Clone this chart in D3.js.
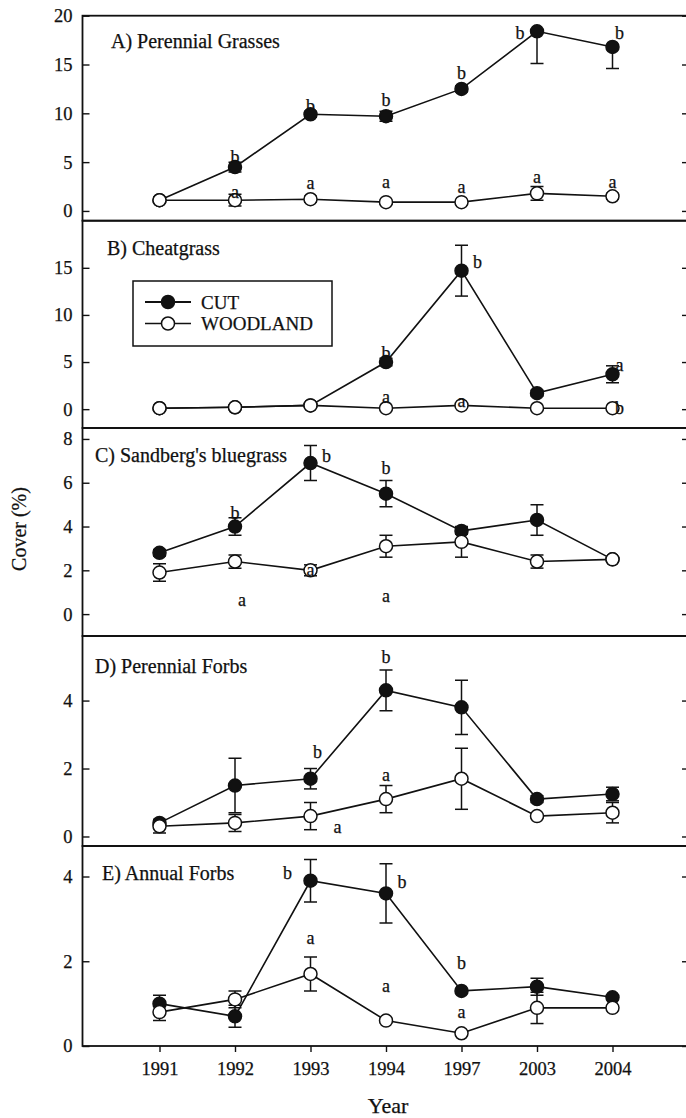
<!DOCTYPE html>
<html><head><meta charset="utf-8">
<script src="https://cdn.jsdelivr.net/npm/d3@7"></script>
<style>body{margin:0;background:#fff}svg{display:block}text{font-family:"Liberation Serif","Times New Roman",serif;fill:#111;stroke:#111;stroke-width:0.25px}</style>
</head><body><svg id="c" width="686" height="1118"></svg>
<script>
// ---------- data ----------
const years = ["1991","1992","1993","1994","1997","2003","2004"];
const panelNames = ["A) Perennial Grasses","B) Cheatgrass","C) Sandberg's bluegrass","D) Perennial Forbs","E) Annual Forbs"];
const yTicks = [[0,5,10,15,20],[0,5,10,15],[0,2,4,6,8],[0,2,4],[0,2,4]];
const seriesNames = ["CUT","WOODLAND"];

const cutA  = [1.1,4.5,9.9,9.7,12.5,18.4,16.8];
const cutErrA = [0.2,0.5,0.3,0.5,0.3,3.3,2.2];
const woodA = [1.1,1.1,1.2,0.9,0.9,1.8,1.5];
const woodErrA = [0.3,0.6,0.3,0.2,0.2,0.7,0.3];

const cutB  = [0.1,0.2,0.4,5.0,14.7,1.7,3.7];
const cutErrB = [0,0,0,0.4,2.7,0.3,0.9];
const woodB = [0.1,0.2,0.4,0.1,0.4,0.1,0.1];
const woodErrB = [0.1,0.1,0.1,0.1,0.2,0.1,0.1];

const cutC  = [2.8,4.0,6.9,5.5,3.8,4.3,2.5];
const cutErrC = [0.15,0.4,0.8,0.6,0.15,0.7,0.1];
const woodC = [1.9,2.4,2.0,3.1,3.3,2.4,2.5];
const woodErrC = [0.4,0.3,0.25,0.5,0.7,0.3,0.1];

const cutD  = [0.4,1.5,1.7,4.3,3.8,1.1,1.25];
const cutErrD = [0.1,0.8,0.3,0.6,0.8,0.1,0.2];
const woodD = [0.3,0.4,0.6,1.1,1.7,0.6,0.7];
const woodErrD = [0.2,0.25,0.4,0.4,0.9,0.05,0.3];

const cutE  = [1.0,0.7,3.9,3.6,1.3,1.4,1.15];
const cutErrE = [0.2,0.26,0.5,0.7,0.05,0.2,0.05];
const woodE = [0.8,1.1,1.7,0.6,0.3,0.9,0.9];
const woodErrE = [0.2,0.2,0.4,0.05,0.05,0.37,0.05];

// error bars drawn only downward: [panel, series, year]
const lowerOnly = [[0,"CUT","2003"],[0,"CUT","2004"]];

// significance letters: [year, value, letter, side]
const lettersA = [["1992",5.55,"b","c"],["1993",10.75,"b","c"],["1994",11.36,"b","c"],["1997",14.1,"b","c"],["2003",18.2,"b","l"],["2004",18.2,"b","r"],
                  ["1992",1.97,"a","c"],["1993",2.83,"a","c"],["1994",3.0,"a","c"],["1997",2.5,"a","c"],["2003",3.5,"a","c"],["2004",3.0,"a","c"]];
const lettersB = [["1994",5.93,"b","c"],["1997",15.66,"b","R"],["2004",4.69,"a","r"],["1994",1.26,"a","c"],["1997",0.9,"a","c"],["2004",0.16,"b","r"]];
const lettersC = [["1992",4.6,"b","c"],["1993",7.22,"b","R"],["1994",6.66,"b","c"],["1992",0.64,"a","r"],["1993",2.01,"a","c"],["1994",0.84,"a","c"]];
const lettersD = [["1993",2.48,"b","r"],["1994",5.27,"b","c"],["1993",0.27,"a","RR"],["1994",1.82,"a","c"]];
const lettersE = [["1993",4.08,"b","L"],["1994",3.88,"b","R"],["1997",1.95,"b","c"],["1993",2.54,"a","c"],["1994",1.42,"a","c"],["1997",0.8,"a","c"]];

const cutVals = [cutA,cutB,cutC,cutD,cutE];
const cutErrs = [cutErrA,cutErrB,cutErrC,cutErrD,cutErrE];
const woodVals = [woodA,woodB,woodC,woodD,woodE];
const woodErrs = [woodErrA,woodErrB,woodErrC,woodErrD,woodErrE];
const letters = [lettersA,lettersB,lettersC,lettersD,lettersE];

// ---------- layout ----------
const left = 82.5, right = 688;
const tops = [15.7,220.7,428,636,846];
const bottoms = [220.7,428,636,846,1046];
const domains = [[-1,20],[-2,20],[-1,8.5],[-0.28,5.9],[0,4.72]];
const titlePos = [[111,48],[107,255],[95,462],[95,673],[102,880]];
const sideDx = {c:0,r:7,R:16,RR:27,l:-17,L:-23};

const svg = d3.select("#c");
const x = d3.scalePoint().domain(years).range([84,688]).padding(1);

panelNames.forEach((name,p)=>{
  const y = d3.scaleLinear().domain(domains[p]).range([bottoms[p],tops[p]]);
  const g = svg.append("g");
  const clipId = "clip"+p;
  svg.append("clipPath").attr("id",clipId).append("rect")
    .attr("x",left).attr("y",tops[p]).attr("width",right-left).attr("height",bottoms[p]-tops[p]);

  const lax = d3.axisLeft(y).tickValues(yTicks[p]).tickSize(-7).tickPadding(10).tickFormat(d3.format("d"));
  const la = g.append("g").attr("transform",`translate(${left},0)`).call(lax);
  la.select(".domain").remove();
  la.selectAll("line").attr("stroke","#111").attr("stroke-width",1.4);
  la.selectAll("text").attr("font-size",18.5).attr("font-family","Liberation Serif").attr("fill","#111");
  const rax = d3.axisRight(y).tickValues(yTicks[p]).tickSize(-6).tickFormat("");
  const ra = g.append("g").attr("transform",`translate(${right},0)`).call(rax);
  ra.select(".domain").remove();
  ra.selectAll("line").attr("stroke","#111").attr("stroke-width",1.4);

  g.append("rect").attr("x",left).attr("y",tops[p]).attr("width",right-left).attr("height",bottoms[p]-tops[p])
    .attr("fill","none").attr("stroke","#111").attr("stroke-width",1.8);

  g.append("text").attr("x",titlePos[p][0]).attr("y",titlePos[p][1]).attr("font-size",20).text(name);

  const plot = g.append("g").attr("clip-path",`url(#${clipId})`);
  const series = [
    {name:"CUT", vals:cutVals[p], errs:cutErrs[p], fill:"#111"},
    {name:"WOODLAND", vals:woodVals[p], errs:woodErrs[p], fill:"#fff"}
  ];
  series.forEach(s=>{
    const pts = years.map((yr,i)=>({yr,v:s.vals[i],e:s.errs[i],
      lo: lowerOnly.some(o=>o[0]===p&&o[1]===s.name&&o[2]===yr)}));
    const eb = plot.append("g").attr("stroke","#111").attr("stroke-width",1.5);
    pts.forEach(d=>{
      if(!(d.e>0)) return;
      const y1 = y(d.v-d.e), y2 = d.lo ? y(d.v) : y(d.v+d.e), xx = x(d.yr);
      eb.append("line").attr("x1",xx).attr("x2",xx).attr("y1",y1).attr("y2",y2);
      eb.append("line").attr("x1",xx-6.5).attr("x2",xx+6.5).attr("y1",y1).attr("y2",y1);
      if(!d.lo) eb.append("line").attr("x1",xx-6.5).attr("x2",xx+6.5).attr("y1",y2).attr("y2",y2);
    });
    plot.append("path").datum(pts)
      .attr("d",d3.line().x(d=>x(d.yr)).y(d=>y(d.v)))
      .attr("fill","none").attr("stroke","#111").attr("stroke-width",1.6);
    plot.selectAll(null).data(pts).enter().append("circle")
      .attr("cx",d=>x(d.yr)).attr("cy",d=>y(d.v)).attr("r",6.5)
      .attr("fill",s.fill).attr("stroke","#111").attr("stroke-width",1.5);
  });

  g.selectAll(null).data(letters[p]).enter().append("text")
    .attr("x",d=>x(d[0])+sideDx[d[3]]).attr("y",d=>y(d[1]))
    .attr("text-anchor","middle").attr("dominant-baseline","central")
    .attr("font-size",18).text(d=>d[2]);

  if(p===1){
    const lg = g.append("g");
    lg.append("rect").attr("x",133).attr("y",281).attr("width",199).attr("height",65)
      .attr("fill","#fff").attr("stroke","#111").attr("stroke-width",1.5);
    seriesNames.forEach((nm,i)=>{
      const yy = 302 + i*21.5;
      lg.append("line").attr("x1",145).attr("x2",191).attr("y1",yy).attr("y2",yy)
        .attr("stroke","#111").attr("stroke-width",i===0?2:1.3);
      lg.append("circle").attr("cx",168).attr("cy",yy).attr("r",6.5)
        .attr("fill",i===0?"#111":"#fff").attr("stroke","#111").attr("stroke-width",1.5);
      lg.append("text").attr("x",201).attr("y",yy).attr("dominant-baseline","central")
        .attr("font-size",19).text(nm);
    });
  }

  if(p===4){
    const xa = d3.axisBottom(x).tickSize(6).tickPadding(10);
    const xg = g.append("g").attr("transform",`translate(0,${bottoms[p]})`).call(xa);
    xg.select(".domain").remove();
    xg.selectAll("line").attr("stroke","#111").attr("stroke-width",1.4);
    xg.selectAll("text").attr("font-size",18.5).attr("font-family","Liberation Serif").attr("fill","#111");
  }
});

svg.append("text").attr("x",388).attr("y",1113).attr("text-anchor","middle").attr("font-size",22).text("Year");
svg.append("text").attr("transform","translate(26,529) rotate(-90)").attr("text-anchor","middle")
  .attr("font-size",20).text("Cover (%)");
</script></body></html>
